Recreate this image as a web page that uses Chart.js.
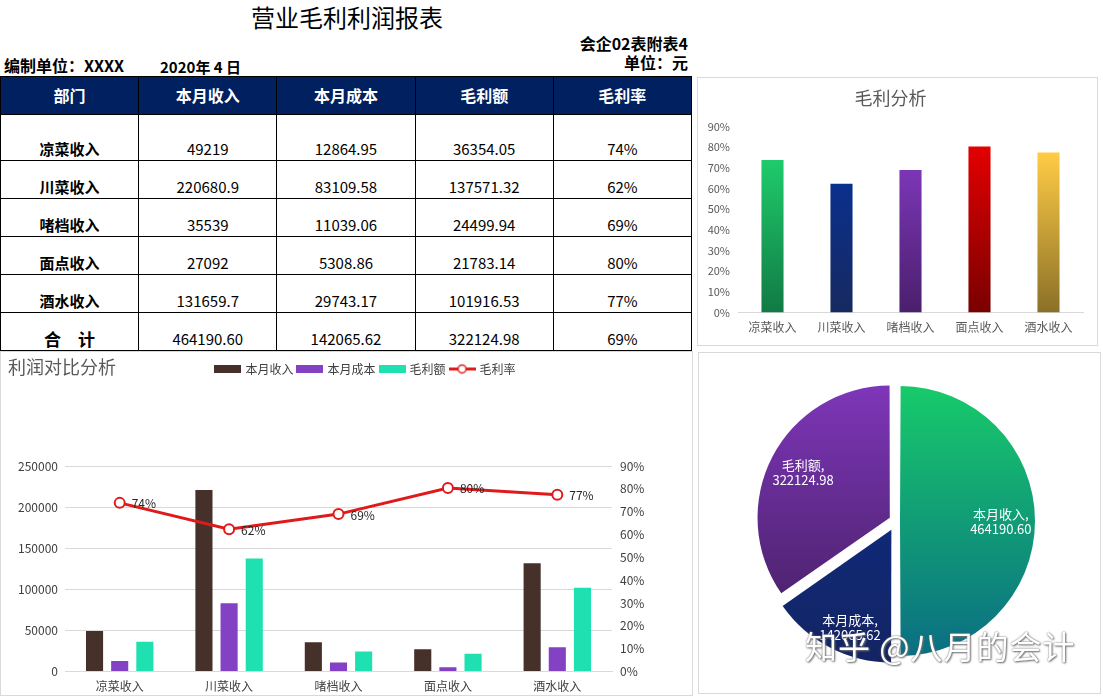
<!DOCTYPE html>
<html>
<head>
<meta charset="utf-8">
<script src="https://cdn.jsdelivr.net/npm/chart.js@4.4.1/dist/chart.umd.min.js"></script>
<style>
  body { margin:0; width:1103px; height:696px; position:relative; overflow:hidden; background:#fff; font-family:"Noto Sans CJK SC", sans-serif; color:#000; }
  .abs { position:absolute; }
  .b { font-weight:bold; }
  #title { left:0; width:694px; top:2px; text-align:center; font-size:24px; line-height:30px; }
  #report { position:absolute; left:0; top:76px; width:692px; border-collapse:collapse; table-layout:fixed; }
  #report th, #report td { border:1px solid #000; text-align:center; vertical-align:bottom; padding:0 0 1px 0; font-size:15px; line-height:20px; }
  #report th { background:#002060; color:#fff; height:36px; vertical-align:middle; font-size:16px; }
  #report td { height:36px; }
  #report tr.first td { height:44px; }
  #report td.dept { font-weight:bold; }
  #report tr.total td.dept { font-size:17px; }
  .panel { position:absolute; border:1px solid #d9d9d9; box-sizing:border-box; }
  #comboTitle { left:8px; top:354px; font-size:18px; line-height:24px; color:#595959; }
  #mark { left:805px; top:624px; font-size:32px; line-height:42px; color:#fff; letter-spacing:1px;
          text-shadow:0 0 2px #666, 1px 1px 2px #777; }
</style>
</head>
<body>
<div class="abs" id="title">营业毛利利润报表</div>
<div class="abs b" style="left:400px;width:288px;top:33px;text-align:right;font-size:16px;line-height:21px;">会企02表附表4</div>
<div class="abs b" style="left:400px;width:288px;top:52px;text-align:right;font-size:16px;line-height:21px;">单位：元</div>
<div class="abs b" style="left:4px;top:55px;font-size:16px;line-height:21px;">编制单位：XXXX</div>
<div class="abs b" style="left:160px;top:56px;font-size:15px;line-height:21px;">2020年 4 日</div>

<table id="report"></table>

<div class="panel" style="left:697px;top:77px;width:401px;height:269px;"></div>
<canvas id="rateChart" class="abs" style="left:698px;top:78px;" width="398" height="266"></canvas>

<div class="panel" style="left:0;top:351px;width:693px;height:345px;"></div>
<canvas id="comboChart" class="abs" style="left:1px;top:352px;" width="690" height="343"></canvas>
<div class="abs" id="comboTitle">利润对比分析</div>

<div class="panel" style="left:698px;top:352px;width:403px;height:342px;"></div>
<canvas id="pieChart" class="abs" style="left:699px;top:353px;" width="400" height="339"></canvas>

<div class="abs" id="mark">知乎 @八月的会计</div>

<script>
// data
const depts = ['凉菜收入', '川菜收入', '啫档收入', '面点收入', '酒水收入'];
const revenue = [49219, 220680.9, 35539, 27092, 131659.7];
const cost = [12864.95, 83109.58, 11039.06, 5308.86, 29743.17];
const profit = [36354.05, 137571.32, 24499.94, 21783.14, 101916.53];
const marginRate = [0.7386, 0.6234, 0.6894, 0.8040, 0.7741];
const totalNames = ['本月收入', '本月成本', '毛利额'];
const totals = [464190.60, 142065.62, 322124.98];
const totalRate = 0.6939;
const headers = ['部门', '本月收入', '本月成本', '毛利额', '毛利率'];

const pct = v => Math.round(v * 100) + '%';
const font = '"Noto Sans CJK SC", sans-serif';
Chart.defaults.font.family = font;
Chart.defaults.color = '#404040';

// table
let html = '<tr>' + headers.map(h => `<th>${h}</th>`).join('') + '</tr>';
depts.forEach((d, i) => {
    html += `<tr class="${i === 0 ? 'first' : ''}">
        <td class="dept">${d}</td><td>${revenue[i]}</td><td>${cost[i]}</td>
        <td>${profit[i]}</td><td>${pct(marginRate[i])}</td></tr>`;
});
html += `<tr class="total"><td class="dept">合　计</td>` +
    totals.map(v => `<td>${v.toFixed(2)}</td>`).join('') + `<td>${pct(totalRate)}</td></tr>`;
document.getElementById('report').innerHTML = html;

// 毛利分析 bar chart
const barTop = ['#1fcb6b', '#0a2f8c', '#7b36b6', '#e30000', '#ffcc45'];
const barBottom = ['#117a44', '#172a60', '#4a1f6c', '#7a0000', '#8a7028'];

new Chart(document.getElementById('rateChart'), {
    type: 'bar',
    data: {
        labels: depts,
        datasets: [{
            data: marginRate,
            backgroundColor: (c) => {
                const chart = c.chart;
                const area = chart.chartArea;
                if (!area || c.dataIndex === undefined) return barTop[0];
                const yTop = chart.scales.y.getPixelForValue(marginRate[c.dataIndex]);
                const g = chart.ctx.createLinearGradient(0, yTop, 0, area.bottom);
                g.addColorStop(0, barTop[c.dataIndex]);
                g.addColorStop(1, barBottom[c.dataIndex]);
                return g;
            },
            categoryPercentage: 0.8,
            barPercentage: 0.4
        }]
    },
    options: {
        responsive: false,
        animation: false,
        events: [],
        layout: { padding: { right: 13, bottom: 1 } },
        plugins: {
            legend: { display: false },
            tooltip: { enabled: false },
            title: {
                display: true, text: '毛利分析', color: '#595959',
                font: { size: 18, weight: 'normal' },
                padding: { top: 9, bottom: 18 }
            }
        },
        scales: {
            x: {
                grid: { display: false, drawTicks: false },
                border: { display: true, color: '#d9d9d9' },
                ticks: { color: '#595959', font: { size: 12 }, padding: 8 }
            },
            y: {
                min: 0, max: 0.9,
                afterFit: s => { s.width = 40; },
                grid: { display: false, drawTicks: false },
                border: { display: false },
                ticks: { stepSize: 0.1, color: '#595959', font: { size: 11 }, padding: 8, callback: v => pct(v) }
            }
        }
    }
});

// 利润对比分析 combo chart
const mark = (color, isLine) => {
    const c = document.createElement('canvas');
    c.width = 27; c.height = isLine ? 11 : 8;
    const g = c.getContext('2d');
    if (isLine) {
        g.strokeStyle = color; g.lineWidth = 3;
        g.beginPath(); g.moveTo(0, 5.5); g.lineTo(27, 5.5); g.stroke();
        g.fillStyle = '#fff'; g.lineWidth = 1.5;
        g.beginPath(); g.arc(13.5, 5.5, 4, 0, Math.PI * 2); g.fill(); g.stroke();
    } else {
        g.fillStyle = color; g.fillRect(0, 0, 27, 8);
    }
    return c;
};
const seriesColors = ['#45302a', '#8342c4', '#1fe0b0', '#e01a1a'];
const legendMarks = [mark(seriesColors[0]), mark(seriesColors[1]), mark(seriesColors[2]), mark(seriesColors[3], true)];

const legendShift = {
    id: 'legendShift',
    beforeInit(chart, args, opts) {
        const legend = chart.legend;
        const fit = legend.fit;
        legend.fit = function () { fit.call(this); this.height += opts.extra; };
        const draw = legend.draw;
        legend.draw = function () {
            this.ctx.save();
            this.ctx.translate(opts.dx, 0);
            draw.apply(this, arguments);
            this.ctx.restore();
        };
    }
};

const rateLabels = {
    id: 'rateLabels',
    afterDatasetsDraw(chart) {
        const ctx = chart.ctx;
        const meta = chart.getDatasetMeta(3);
        ctx.save();
        ctx.fillStyle = '#262626';
        ctx.font = '12px ' + font;
        ctx.textAlign = 'left';
        ctx.textBaseline = 'middle';
        meta.data.forEach((pt, i) => ctx.fillText(pct(marginRate[i]), pt.x + 12, pt.y + 1));
        ctx.restore();
    }
};

new Chart(document.getElementById('comboChart'), {
    type: 'bar',
    data: {
        labels: depts,
        datasets: [
            { label: '本月收入', data: revenue, backgroundColor: seriesColors[0], yAxisID: 'y', order: 1 },
            { label: '本月成本', data: cost, backgroundColor: seriesColors[1], yAxisID: 'y', order: 1 },
            { label: '毛利额', data: profit, backgroundColor: seriesColors[2], yAxisID: 'y', order: 1 },
            {
                label: '毛利率', type: 'line', data: marginRate, yAxisID: 'y1', order: 0,
                borderColor: seriesColors[3], backgroundColor: '#fff', borderWidth: 3,
                pointRadius: 5, pointBorderWidth: 2, pointBackgroundColor: '#fff',
                pointBorderColor: seriesColors[3], tension: 0
            }
        ]
    },
    options: {
        responsive: false,
        animation: false,
        events: [],
        datasets: { bar: { categoryPercentage: 0.69, barPercentage: 0.68 } },
        layout: { padding: { top: 6, bottom: -7 } },
        plugins: {
            tooltip: { enabled: false },
            legendShift: { extra: 81, dx: 20 },
            legend: {
                position: 'top',
                labels: {
                    usePointStyle: true,
                    pointStyleWidth: 23,
                    padding: 5,
                    color: '#404040',
                    font: { size: 12 },
                    sort: (a, b) => a.datasetIndex - b.datasetIndex,
                    generateLabels(chart) {
                        const items = Chart.defaults.plugins.legend.labels.generateLabels(chart);
                        items.forEach(it => { it.pointStyle = legendMarks[it.datasetIndex]; });
                        return items;
                    }
                }
            }
        },
        scales: {
            x: {
                grid: { display: false, drawTicks: false },
                border: { display: true, color: '#d9d9d9' },
                ticks: { color: '#404040', font: { size: 12 }, padding: 8 }
            },
            y: {
                position: 'left',
                min: 0, max: 250000,
                afterFit: s => { s.width = 64; },
                grid: { color: '#d9d9d9', drawTicks: false },
                border: { display: false },
                ticks: { stepSize: 50000, color: '#404040', font: { size: 12 }, padding: 7, callback: v => String(v) }
            },
            y1: {
                position: 'right',
                min: 0, max: 0.9,
                afterFit: s => { s.width = 79; },
                grid: { display: false, drawTicks: false },
                border: { display: false },
                ticks: { stepSize: 0.1, color: '#404040', font: { size: 12 }, padding: 8, callback: v => pct(v) }
            }
        }
    },
    plugins: [legendShift, rateLabels]
});

// 合计 pie chart
const pieTop = ['#17c96b', '#0b2f8c', '#7d36b8'];
const pieBottom = ['#0b6f82', '#142463', '#431e5e'];
const pieR = 131;

const pieLabels = {
    id: 'pieLabels',
    afterDatasetsDraw(chart) {
        const ctx = chart.ctx;
        const meta = chart.getDatasetMeta(0);
        const place = [0.8, 0.88, 0.8];
        ctx.save();
        ctx.fillStyle = '#fff';
        ctx.font = '13px ' + font;
        ctx.textAlign = 'center';
        ctx.textBaseline = 'middle';
        meta.data.forEach((arc, i) => {
            const mid = (arc.startAngle + arc.endAngle) / 2 - (i === 1 ? 0.07 : 0);
            const r = arc.outerRadius * place[i];
            const x = arc.x + Math.cos(mid) * r;
            const y = arc.y + Math.sin(mid) * r;
            ctx.fillText(totalNames[i] + ',', x, y - 7);
            ctx.fillText(totals[i].toFixed(2), x, y + 8);
        });
        ctx.restore();
    }
};

new Chart(document.getElementById('pieChart'), {
    type: 'pie',
    data: {
        labels: totalNames,
        datasets: [{
            data: totals,
            backgroundColor: (c) => {
                const area = c.chart.chartArea;
                if (!area || c.dataIndex === undefined) return pieTop[0];
                const cy = (area.top + area.bottom) / 2;
                const g = c.chart.ctx.createLinearGradient(0, cy - pieR, 0, cy + pieR);
                g.addColorStop(0, pieTop[c.dataIndex]);
                g.addColorStop(1, pieBottom[c.dataIndex]);
                return g;
            },
            borderWidth: 0,
            offset: [16, 40, 28]
        }]
    },
    options: {
        responsive: false,
        animation: false,
        events: [],
        radius: pieR,
        layout: { padding: { right: 6, bottom: 3 } },
        plugins: { legend: { display: false }, tooltip: { enabled: false } }
    },
    plugins: [pieLabels]
});
</script>
</body>
</html>
